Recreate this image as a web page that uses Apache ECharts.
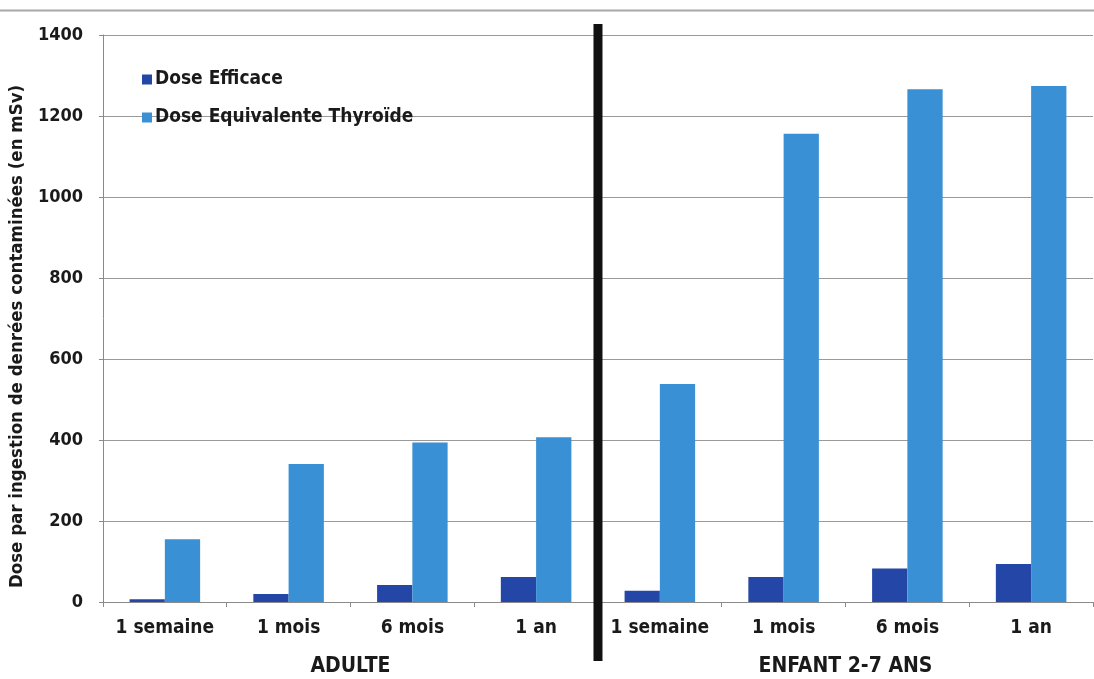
<!DOCTYPE html>
<html>
<head>
<meta charset="utf-8">
<script src="https://cdn.jsdelivr.net/npm/echarts@6/dist/echarts.min.js"></script>
<style>
html,body{margin:0;padding:0;background:#fff;}
#chart{width:1094px;height:679px;}
</style>
</head>
<body>
<div id="chart"></div>
<script>
const categories = ['1 semaine','1 mois','6 mois','1 an','1 semaine','1 mois','6 mois','1 an'];
const groups = ['ADULTE','ENFANT 2-7 ANS'];
const seriesNames = ['Dose Efficace','Dose Equivalente Thyroïde'];
const doseEfficace = [7, 20, 42, 62, 28, 62, 83, 94];
const doseThyroide = [155, 341, 394, 407, 538, 1156, 1266, 1274];
const yMin = 0, yMax = 1400, yStep = 200;
const yTitle = 'Dose par ingestion de denrées contaminées (en mSv)';

const FONT = '"DejaVu Sans Condensed", "DejaVu Sans", sans-serif';
const chart = echarts.init(document.getElementById('chart'), null, {renderer:'canvas'});
chart.setOption({
  animation:false,
  backgroundColor:'#fff',
  grid:{left:101, right:1, top:35, bottom:77, containLabel:false},
  legend:{
    orient:'vertical', left:137, top:65, itemWidth:10, itemHeight:10, itemGap:19,
    icon:'rect',
    textStyle:{fontFamily:FONT, fontWeight:'bold', fontSize:19, color:'#1a1a1a', padding:[0,0,0,-2]},
    data:seriesNames
  },
  xAxis:[{
    type:'category', data:categories, position:'bottom',
    axisLine:{show:true, lineStyle:{color:'#8a8a8a', width:1}},
    axisTick:{show:true, interval:0, length:5, lineStyle:{color:'#8a8a8a'}},
    axisLabel:{interval:0, margin:17, fontFamily:FONT, fontWeight:'bold', fontSize:19, color:'#1a1a1a'},
    splitLine:{show:false}
  },{
    type:'category', data:groups, position:'bottom', offset:46,
    axisLine:{show:false}, axisTick:{show:false},
    axisLabel:{interval:0, margin:8, fontFamily:FONT, fontWeight:'bold', fontSize:21, color:'#1a1a1a'},
    splitLine:{show:false}
  }],
  yAxis:{
    type:'value', min:yMin, max:yMax, interval:yStep,
    name:yTitle, nameLocation:'middle', nameGap:74, nameRotate:90,
    nameTextStyle:{fontFamily:FONT, fontWeight:'bold', fontSize:18.5, color:'#1a1a1a', padding:[0,0,0,-36]},
    axisLine:{show:true, lineStyle:{color:'#8a8a8a', width:1}},
    axisTick:{show:true, length:4, lineStyle:{color:'#8a8a8a'}},
    axisLabel:{margin:20, fontFamily:FONT, fontWeight:'bold', fontSize:18, color:'#1a1a1a',
      formatter:function(v){return String(v);}},
    splitLine:{show:true, lineStyle:{color:'#9a9a9a', width:1}}
  },
  series:[{
    name:seriesNames[0], type:'bar', data:doseEfficace, xAxisIndex:0,
    barGap:'0%', barCategoryGap:'43%',
    itemStyle:{color:'#2446a6'}
  },{
    name:seriesNames[1], type:'bar', data:doseThyroide, xAxisIndex:0,
    barGap:'0%', barCategoryGap:'43%',
    itemStyle:{color:'#3a90d4'}
  }]
});

// separator between the two groups, positioned from the category axis
const xa = chart.convertToPixel({xAxisIndex:0}, 3);
const xb = chart.convertToPixel({xAxisIndex:0}, 4);
const sepX = (xa + xb) / 2;
chart.setOption({
  graphic:[
    {type:'line', shape:{x1:0, y1:10.5, x2:1094, y2:10.5}, style:{stroke:'#a8a8a8', lineWidth:2}, z:1},
    {type:'line', shape:{x1:sepX, y1:24, x2:sepX, y2:661}, style:{stroke:'#111', lineWidth:9}, z:100}
  ]
});
</script>
</body>
</html>
